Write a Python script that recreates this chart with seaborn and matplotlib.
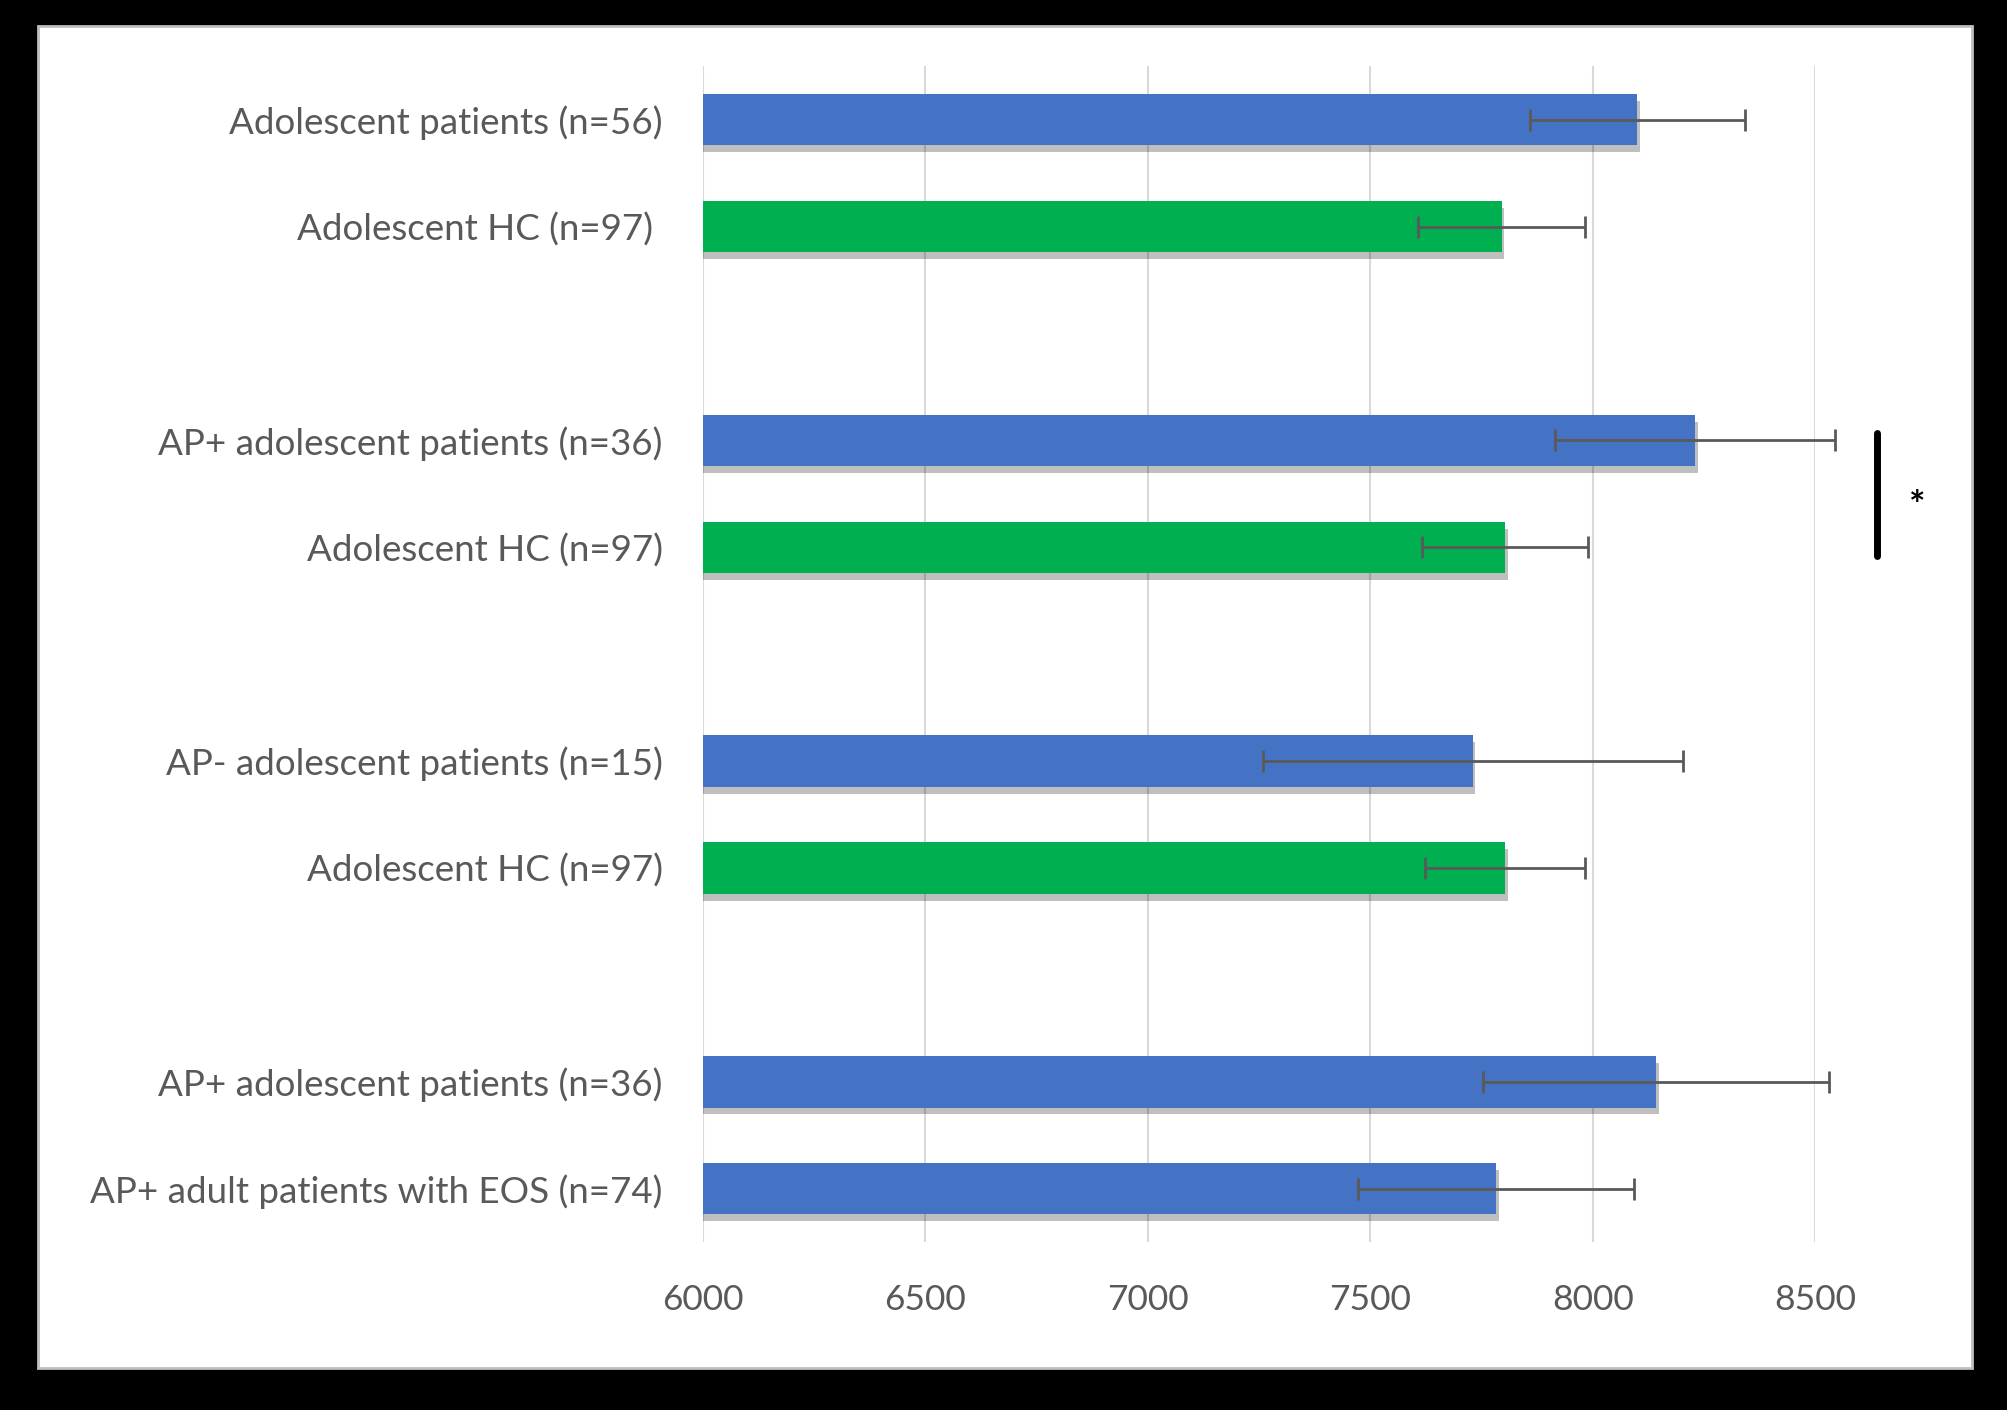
import numpy as np
import pandas as pd
import matplotlib
matplotlib.use("Agg")
import matplotlib.pyplot as plt
import matplotlib.patheffects as pe
from matplotlib.patches import Rectangle
import seaborn as sns

labels = [
    "Adolescent patients (n=56)",
    "Adolescent HC (n=97) ",
    "AP+ adolescent patients (n=36)",
    "Adolescent HC (n=97)",
    "AP- adolescent patients (n=15)",
    "Adolescent HC (n=97)",
    "AP+ adolescent patients (n=36)",
    "AP+ adult patients with EOS (n=74)",
]
means = [8100, 7795, 8230, 7803, 7730, 7803, 8143, 7783]
errors = [242, 187, 315, 187, 472, 180, 389, 310]
groups = ["patient", "hc", "patient", "hc", "patient", "hc", "patient", "patient"]
xticks = [6000, 6500, 7000, 7500, 8000, 8500]

# positions: pairs separated by one empty slot
positions = []
for g in range(4):
    positions += [g * 3, g * 3 + 1]

palette = {"patient": "#4472C4", "hc": "#00B050"}

df = pd.DataFrame({"label": labels, "mean": means, "err": errors,
                   "group": groups, "pos": positions})

sns.set_theme(style="white")
plt.rcParams["font.family"] = ["Lato", "DejaVu Sans"]

fig = plt.figure(figsize=(20.08, 14.10), dpi=100, facecolor="black")
# white panel
fig.patches.append(Rectangle((38 / 2008, 1 - 1368 / 1410), (1972 - 38) / 2008,
                             (1368 - 26) / 1410, transform=fig.transFigure,
                             facecolor="white", edgecolor="#BFBFBF", lw=2, zorder=-5))
ax = fig.add_axes([0.350, 0.119, 0.554, 0.834])
ax.set_zorder(2)
ax.set_facecolor("none")

sns.barplot(data=df, x="mean", y="pos", hue="group", palette=palette,
            orient="h", native_scale=True, width=0.48, dodge=False,
            saturation=1, linewidth=0, legend=False, ax=ax, zorder=3)
for p in ax.patches:
    p.set_path_effects([pe.SimplePatchShadow(offset=(2, -5), shadow_rgbFace="#000000", alpha=0.25),
                        pe.Normal()])

ax.errorbar(df["mean"], df["pos"], xerr=df["err"], fmt="none",
            ecolor="#595959", elinewidth=2, capsize=8, capthick=2,
            zorder=5, clip_on=False)

ax.set_xlim(6000, 8500)
ax.set_ylim(10.5, -0.5)
ax.set_xticks(xticks)
ax.set_xticklabels([str(t) for t in xticks])
ax.set_yticks(positions)
ax.set_yticklabels(labels)
ax.set_xlabel("")
ax.set_ylabel("")
for s in ax.spines.values():
    s.set_visible(False)
ax.grid(axis="x", color="#D9D9D9", lw=1.5, zorder=0)
ax.set_axisbelow(True)
ax.tick_params(axis="y", length=0, pad=29, labelsize=26.5, labelcolor="#595959")
ax.tick_params(axis="x", length=0, pad=30, labelsize=25.5, labelcolor="#595959")

# significance marker
ax.plot([8638, 8638], [2.93, 4.08], color="black", lw=5, clip_on=False,
        solid_capstyle="round")
ax.text(8730, 3.62, "*", ha="center", va="center", fontsize=28,
        fontweight="bold", color="black", clip_on=False)

fig.savefig("out.png", dpi=100, facecolor="black")
